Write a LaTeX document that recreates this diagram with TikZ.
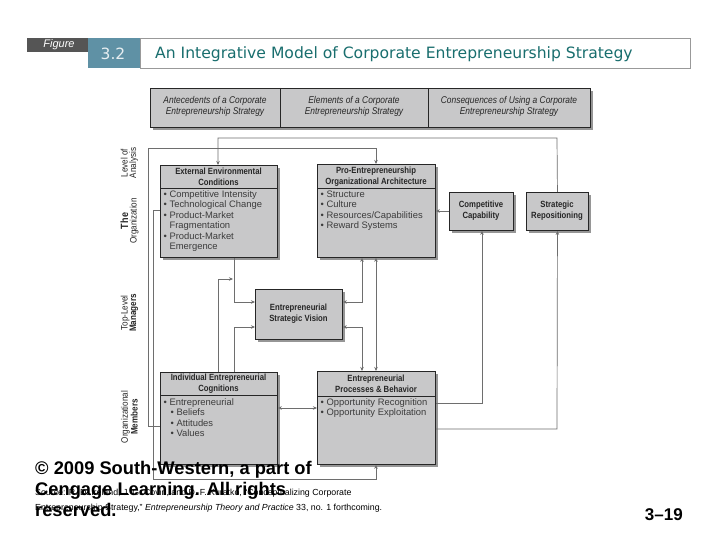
\documentclass[tikz,border=0pt]{standalone}
\usepackage{fontspec}
\setmainfont{Liberation Sans}
\newfontfamily\cond[FakeStretch=0.86]{Liberation Sans}
\newfontfamily\verd{DejaVu Sans}
\usetikzlibrary{arrows.meta,shadows}
\definecolor{boxgray}{RGB}{200,200,201}
\definecolor{shadowgray}{RGB}{150,150,150}
\definecolor{teal32}{RGB}{95,145,165}
\definecolor{titleteal}{RGB}{25,110,110}
\definecolor{figgray}{RGB}{85,85,85}
\definecolor{linegray}{RGB}{110,110,110}
\definecolor{txtgray}{RGB}{60,60,60}
\tikzset{
  box/.style={draw=black!85, line width=0.9pt, fill=boxgray, anchor=north west, inner sep=0pt,
    drop shadow={shadow xshift=3pt, shadow yshift=-3pt, fill=shadowgray, opacity=1}},
  hdr/.style={font=\cond\bfseries\fontsize{9}{10.8}\selectfont, align=center, text=black!85, inner sep=0pt},
  body/.style={font=\fontsize{9.4}{10.4}\selectfont, align=left, text=txtgray, anchor=north west, inner sep=0pt},
  colhdr/.style={font=\cond\itshape\fontsize{9.8}{11.5}\selectfont, align=center, text=black!85, inner sep=0pt},
  side/.style={font=\cond\fontsize{9.4}{8.5}\selectfont, align=center, rotate=90, text=black!85, inner sep=0pt},
  conn/.style={draw=linegray, line width=0.7pt},
  tip/.style={-{Stealth[length=4pt,width=3.5pt]}},
  tips/.style={{Stealth[length=4pt,width=3.5pt]}-{Stealth[length=4pt,width=3.5pt]}},
}
\begin{document}
\begin{tikzpicture}[x=1pt,y=-1pt]
\useasboundingbox (0,0) rectangle (720,540);
\fill[white] (0,0) rectangle (720,540);
% ---- title band
\node[draw=black!40, line width=0.8pt, fill=white, minimum width=550, minimum height=30, anchor=north west, inner sep=0pt] (titlebox) at (140,38) {};
\node[fill=figgray, minimum width=61, minimum height=14, anchor=north west, inner sep=0pt] (figbox) at (27,38) {};
\node[text=white, font=\rmfamily\itshape\fontsize{11}{12}\selectfont, inner sep=0pt] (figtxt) at (59,45) {Figure};
\node[fill=teal32, minimum width=52, minimum height=30, anchor=north west, inner sep=0pt] (numbox) at (88,38) {};
\node[text=white!85!teal32, font=\verd\fontsize{15.5}{16}\selectfont, inner sep=0pt] (numtxt) at (113,54) {3.2};
\node[text=titleteal, font=\verd\fontsize{15.6}{16}\selectfont, anchor=west, inner sep=0pt] (title) at (155,54) {An Integrative Model of Corporate Entrepreneurship Strategy};
% ---- column header bar
\node[box, minimum width=440, minimum height=39] (bar) at (150,88) {};
\draw[black!85, line width=0.9pt] (280,88) -- (280,127) (428,88) -- (428,127);
\node[colhdr] (c1) at (215,106.5) {Antecedents of a Corporate\\Entrepreneurship Strategy};
\node[colhdr] (c2) at (354,106.5) {Elements of a Corporate\\Entrepreneurship Strategy};
\node[colhdr] (c3) at (509,106.5) {Consequences of Using a Corporate\\Entrepreneurship Strategy};
% ---- side labels
\node[side] (lvl) at (129.5,163) {Level of\\Analysis};
\node[side] (org) at (129.5,221) {{\bfseries\fontsize{10.5}{8.5}\selectfont The}\\Organization};
\node[side] (tlm) at (129.5,313) {Top-Level\\{\bfseries Managers}};
\node[side] (om) at (129.5,417) {Organizational\\{\bfseries Members}};
% ---- boxes
\node[box, minimum width=117, minimum height=92] (ext) at (160,165) {};
\draw[black!85, line width=0.9pt] (160,188) -- (277,188);
\node[hdr] (extH) at (218.5,177) {External Environmental\\Conditions};
\node[body] (extB) at (163.5,190.5) {\textbullet\ Competitive Intensity\\\textbullet\ Technological Change\\\textbullet\ Product-Market\\\phantom{\textbullet\ }Fragmentation\\\textbullet\ Product-Market\\\phantom{\textbullet\ }Emergence};

\node[box, minimum width=118, minimum height=93] (pro) at (317,164) {};
\draw[black!85, line width=0.9pt] (317,188) -- (435,188);
\node[hdr] (proH) at (376,177) {Pro-Entrepreneurship\\Organizational Architecture};
\node[body] (proB) at (320.5,190.5) {\textbullet\ Structure\\\textbullet\ Culture\\\textbullet\ Resources/Capabilities\\\textbullet\ Reward Systems};

\node[box, minimum width=64, minimum height=38] (comp) at (449,192) {};
\node[hdr] (compT) at (481,211) {Competitive\\Capability};
\node[box, minimum width=62, minimum height=38] (strat) at (526,192) {};
\node[hdr] (stratT) at (557,211) {Strategic\\Repositioning};

\node[box, minimum width=87, minimum height=50] (vis) at (255,289) {};
\node[hdr] (visT) at (298.5,314) {Entrepreneurial\\Strategic Vision};

\node[box, minimum width=117, minimum height=92] (ind) at (160,372) {};
\draw[black!85, line width=0.9pt] (160,395) -- (277,395);
\node[hdr] (indH) at (218.5,384) {Individual Entrepreneurial\\Cognitions};
\node[body] (indB) at (163.5,398.5) {\textbullet\ Entrepreneurial\\\hspace{7pt}\textbullet\ Beliefs\\\hspace{7pt}\textbullet\ Attitudes\\\hspace{7pt}\textbullet\ Values};

\node[box, minimum width=118, minimum height=93] (proc) at (317,371) {};
\draw[black!85, line width=0.9pt] (317,396) -- (435,396);
\node[hdr] (procH) at (376,384) {Entrepreneurial\\Processes \& Behavior};
\node[body] (procB) at (320.5,398.5) {\textbullet\ Opportunity Recognition\\\textbullet\ Opportunity Exploitation};

% ---- connectors
\coordinate (j1) at (233,279);
\draw[conn,tip] (ind.west |- 0,426) -- (148,426) -- (148,148) -- (376,148) -- (pro.north -| 376,0);
\draw[conn,tip] (ext.west |- 0,210) -- (153,210) -- (153,479) -- (376,479) -- (proc.south -| 376,0);
\draw[conn,tip] (strat.north) -- (557,138) -- (218,138) -- (ext.north -| 218,0);
\draw[conn,tip] (proc.east |- 0,429) -- (557,429) -- (strat.south);
\draw[conn,tip] (proc.east |- 0,403) -- (482,403) -- (comp.south -| 482,0);
\draw[conn,tip] (comp.west |- 0,211) -- (pro.east |- 0,211);
\draw[conn,tip] (ext.south -| 234,0) -- (234,302) -- (vis.west |- 0,302);
\draw[conn,tip] (ind.north -| 218,0) -- (218,279) -- (j1);
\draw[conn,tip] (ind.north -| 234,0) -- (234,327) -- (vis.west |- 0,327);
\draw[conn,tips] (vis.east |- 0,302) -- (362,302) -- (pro.south -| 362,0);
\draw[conn,tips] (vis.east |- 0,327) -- (362,327) -- (proc.north -| 362,0);
\draw[conn,tips] (pro.south -| 376,0) -- (proc.north -| 376,0);
\draw[conn,tips] (ind.east |- 0,408) -- (proc.west |- 0,408);
% ---- footer
\node[font=\fontsize{8.8}{15}\selectfont, anchor=north west, align=left, inner sep=0pt] (src) at (35,489) {Source: R. D. Ireland, J. G. Covin, and D. F. Kuratko, ``Conceptualizing Corporate\\Entrepreneurship Strategy,'' \textit{Entrepreneurship Theory and Practice} 33, no. 1 forthcoming.};
\node[font=\bfseries\fontsize{18.3}{21}\selectfont, anchor=north west, align=left, inner sep=0pt] (copy) at (35,461) {\textcopyright{} 2009 South-Western, a part of\\Cengage Learning. All rights\\reserved.};
\node[font=\bfseries\fontsize{17}{20}\selectfont, anchor=east, inner sep=0pt] (pg) at (683,515) {3--19};
\end{tikzpicture}
\end{document}
